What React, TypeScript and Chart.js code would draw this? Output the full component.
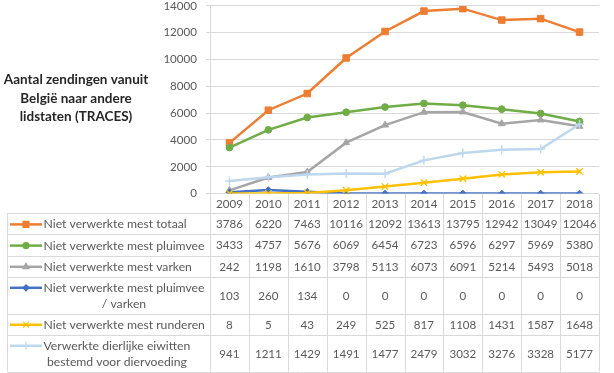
import React, { useEffect, useRef } from 'react';
import { Chart, registerables } from 'chart.js';
import { drawPoint } from 'chart.js/helpers';
Chart.register(...registerables);

const years = ['2009', '2010', '2011', '2012', '2013', '2014', '2015', '2016', '2017', '2018'];
const totaal = [3786, 6220, 7463, 10116, 12092, 13613, 13795, 12942, 13049, 12046];
const pluimvee = [3433, 4757, 5676, 6069, 6454, 6723, 6596, 6297, 5969, 5380];
const varken = [242, 1198, 1610, 3798, 5113, 6073, 6091, 5214, 5493, 5018];
const pluimveeVarken = [103, 260, 134, 0, 0, 0, 0, 0, 0, 0];
const runderen = [8, 5, 43, 249, 525, 817, 1108, 1431, 1587, 1648];
const eiwitten = [941, 1211, 1429, 1491, 1477, 2479, 3032, 3276, 3328, 5177];

const seriesLabels = [
  ['Niet verwerkte mest totaal'],
  ['Niet verwerkte mest pluimvee'],
  ['Niet verwerkte mest varken'],
  ['Niet verwerkte mest pluimvee', '/ varken'],
  ['Niet verwerkte mest runderen'],
  ['Verwerkte dierlijke eiwitten', 'bestemd voor diervoeding'],
];
const seriesData = [totaal, pluimvee, varken, pluimveeVarken, runderen, eiwitten];
const yTicks = [0, 2000, 4000, 6000, 8000, 10000, 12000, 14000];
const axisTitle = ['Aantal zendingen vanuit', 'België naar andere', 'lidstaten (TRACES)'];

const styles = [
  { color: '#ED7D31', pointStyle: 'rect', radius: 4.6 },
  { color: '#70AD47', pointStyle: 'circle', radius: 3.4 },
  { color: '#A5A5A5', pointStyle: 'triangle', radius: 4 },
  { color: '#4472C4', pointStyle: 'rectRot', radius: 3.4 },
  { color: '#FFC000', pointStyle: 'crossRot', radius: 4.5 },
  { color: '#BDD7EE', pointStyle: 'cross', radius: 4.5 },
];

const FONT = 'Lato, "DejaVu Sans", sans-serif';
const TEXT_COLOR = '#595959';
const GRID = '#d9d9d9';

const tablePlugin = {
  id: 'dataTable',
  afterDraw(chart: any) {
    const ctx = chart.ctx;
    const xs = chart.scales.x;
    const area = chart.chartArea;
    const n = years.length;
    const colW = (xs.right - xs.left) / n;
    const left = 7.5;
    const right = xs.right;
    const headerH = 19.7;
    const rowH = seriesLabels.map((l) => (l.length > 1 ? 36.8 : 21.2));
    const top = area.bottom;
    const rowTops: number[] = [];
    let y = top + headerH;
    for (let i = 0; i < rowH.length; i++) {
      rowTops.push(y);
      y += rowH[i];
    }
    const bottom = y;

    ctx.save();
    ctx.strokeStyle = GRID;
    ctx.lineWidth = 1;
    ctx.beginPath();
    for (let k = 0; k <= n; k++) {
      const px = Math.round(xs.left + k * colW) + 0.5;
      ctx.moveTo(px, Math.round(top));
      ctx.lineTo(px, bottom);
    }
    ctx.moveTo(left, Math.round(rowTops[0]));
    ctx.lineTo(left, bottom);
    [...rowTops, bottom].forEach((ry) => {
      const py = Math.min(Math.round(ry) + 0.5, chart.height - 0.5);
      ctx.moveTo(left, py);
      ctx.lineTo(Math.round(right) + 0.5, py);
    });
    ctx.stroke();

    ctx.fillStyle = TEXT_COLOR;
    ctx.textAlign = 'center';
    ctx.textBaseline = 'middle';
    ctx.font = '11.6px ' + FONT;
    years.forEach((yr, i) => {
      ctx.fillText(yr, xs.getPixelForValue(i), top + headerH / 2 + 0.5);
    });
    seriesData.forEach((data, r) => {
      const cy = rowTops[r] + rowH[r] / 2 + 0.5;
      ctx.font = '11.6px ' + FONT;
      ctx.fillStyle = TEXT_COLOR;
      data.forEach((v, i) => {
        ctx.fillText(String(v), xs.getPixelForValue(i), cy);
      });
      // legend label
      ctx.font = '12.2px ' + FONT;
      const lines = seriesLabels[r];
      const widths = lines.map((t) => ctx.measureText(t).width);
      const maxW = Math.max(...widths);
      const tx = 43.5;
      const lineH = 16;
      const firstY = cy - ((lines.length - 1) * lineH) / 2;
      lines.forEach((t, li) => {
        ctx.textAlign = 'center';
        ctx.fillText(t, tx + maxW / 2, firstY + li * lineH);
      });
      // key
      const st = styles[r];
      ctx.strokeStyle = st.color;
      ctx.fillStyle = st.color;
      ctx.lineWidth = 2.5;
      ctx.beginPath();
      ctx.moveTo(10, firstY);
      ctx.lineTo(42, firstY);
      ctx.stroke();
      ctx.lineWidth = 1.2;
      drawPoint(ctx, { pointStyle: st.pointStyle, radius: st.radius * 0.9, rotation: 0, borderWidth: 1 }, 26, firstY);
      ctx.fillStyle = TEXT_COLOR;
    });

    // axis title
    ctx.font = 'bold 13.5px ' + FONT;
    ctx.fillStyle = '#262626';
    ctx.textAlign = 'center';
    const titleY = [80, 98.5, 117];
    axisTitle.forEach((t, i) => ctx.fillText(t, 76, titleY[i]));
    ctx.restore();
  },
};

export default function App() {
  const ref = useRef<HTMLCanvasElement>(null);
  useEffect(() => {
    if (!ref.current) return;
    const chart = new Chart(ref.current, {
      type: 'line',
      data: {
        labels: years,
        datasets: seriesData.map((d, i) => ({
          label: seriesLabels[i].join(' '),
          data: d,
          borderColor: styles[i].color,
          backgroundColor: styles[i].color,
          pointStyle: styles[i].pointStyle as any,
          pointRadius: styles[i].radius,
          pointBorderWidth: styles[i].pointStyle.startsWith('cross') ? 1.4 : 1,
          borderWidth: 2.5,
          tension: 0,
          order: seriesData.length - i,
        })),
      },
      options: {
        responsive: false,
        animation: false,
        layout: { padding: { left: 0, right: 15, top: 5.3, bottom: 179.4 } },
        plugins: { legend: { display: false }, tooltip: { enabled: false } },
        scales: {
          x: { display: false, offset: true },
          y: {
            min: 0,
            max: 14000,
            afterBuildTicks: (scale: any) => {
              scale.ticks = yTicks.map((v) => ({ value: v }));
            },
            afterFit: (scale: any) => {
              scale.width = 210;
              scale.paddingTop = 0;
              scale.paddingBottom = 0;
            },
            grid: { color: GRID, tickLength: 4, drawTicks: true },
            border: { color: GRID },
            ticks: {
              padding: 9,
              color: TEXT_COLOR,
              font: { family: FONT, size: 11.6 },
              callback: (v: any) => String(v),
            },
          },
        },
      },
      plugins: [tablePlugin],
    });
    return () => chart.destroy();
  }, []);
  return (
    <div style={{ position: 'absolute', left: 0, top: 0, width: 614, height: 373, background: '#fff' }}>
      <canvas ref={ref} width={614} height={373} />
    </div>
  );
}
